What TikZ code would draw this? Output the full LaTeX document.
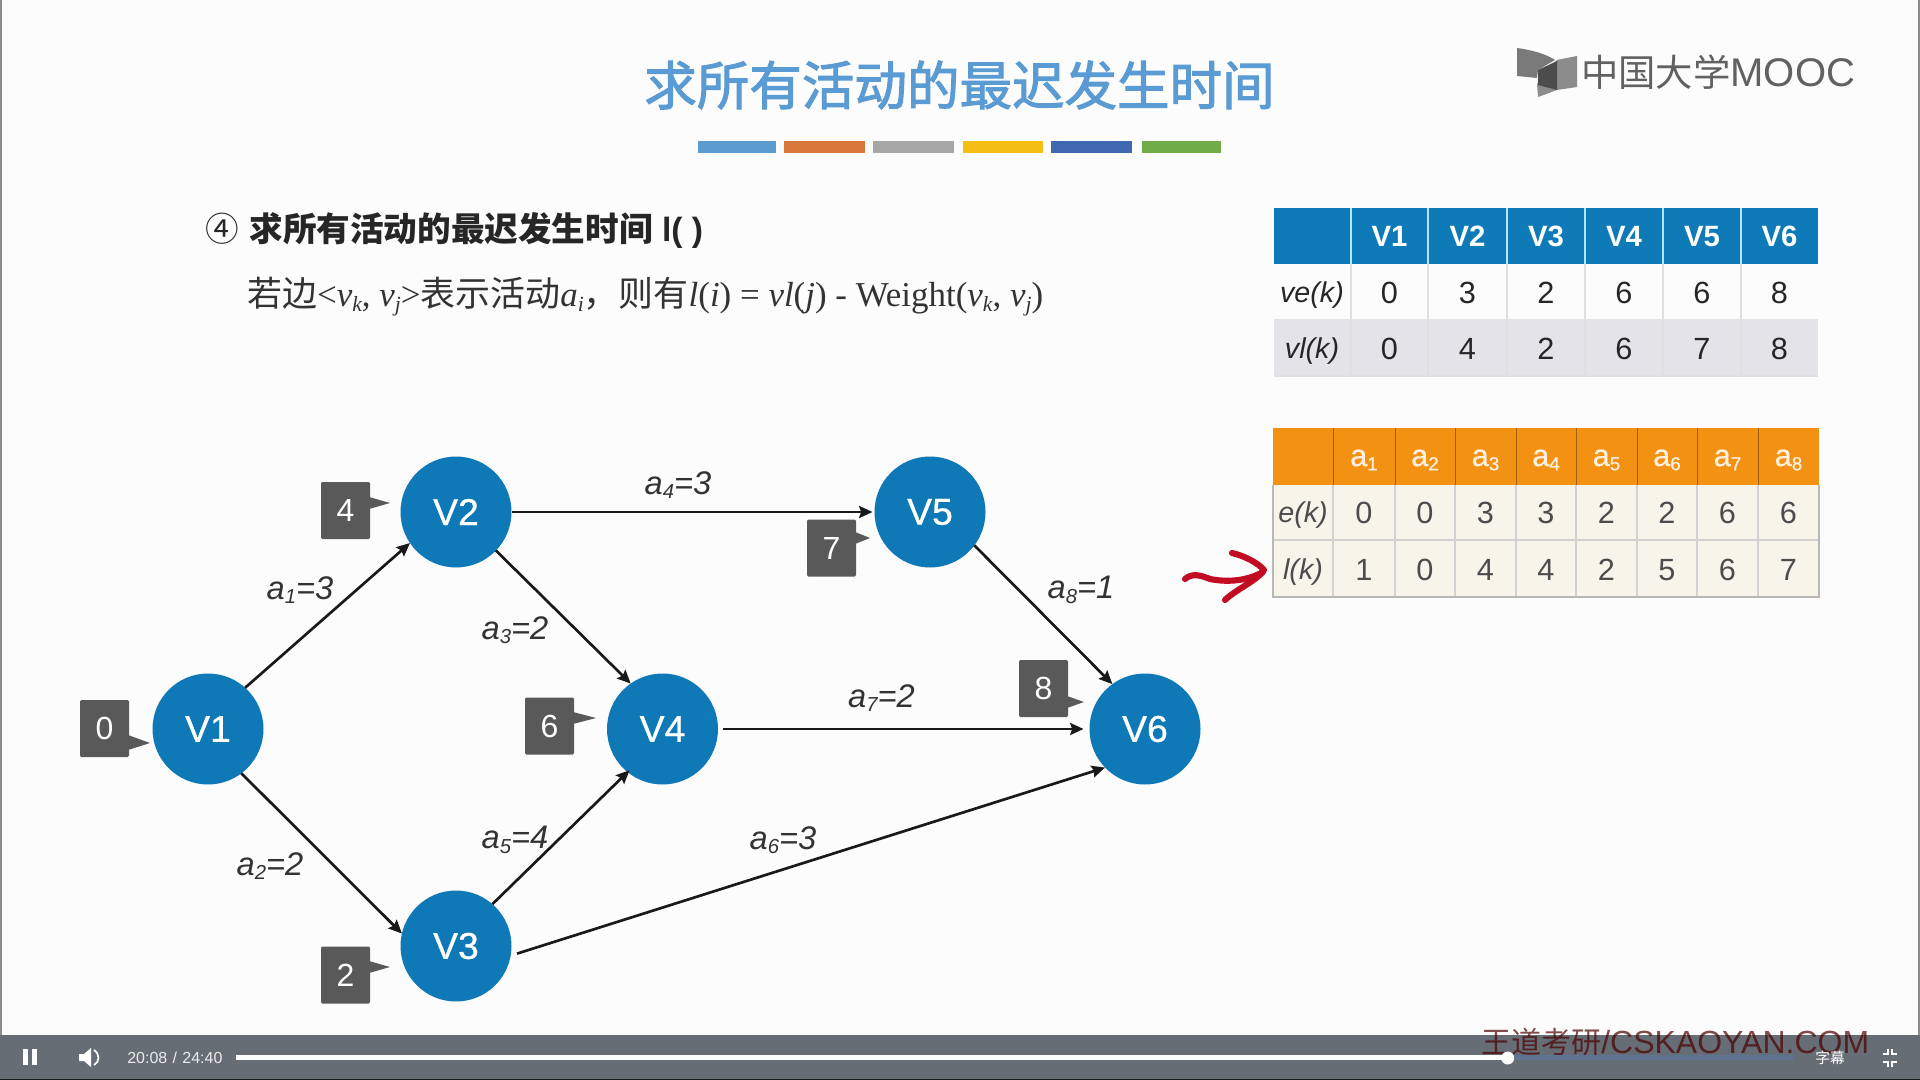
\documentclass[tikz,border=0pt]{standalone}
\usepackage{fontspec}
\setmainfont{Liberation Sans}
\newfontfamily\cjk{Noto Sans CJK SC}
\newfontfamily\cjktitle[FakeBold=2]{Noto Sans CJK SC}
\newfontfamily\tnr{Liberation Serif}
\newfontfamily\vfont[FakeBold=0.7]{Liberation Sans}
\usetikzlibrary{arrows.meta}
\definecolor{circblue}{HTML}{0F78B6}
\definecolor{headblue}{HTML}{0E7AB8}
\definecolor{headorange}{HTML}{F39112}
\definecolor{badgegray}{HTML}{595959}
\definecolor{titleblue}{HTML}{5A9BD3}
\definecolor{rowgray}{HTML}{E3E3E8}
\definecolor{rowcream}{HTML}{F7F5EA}
\definecolor{barcol}{HTML}{666D75}
\definecolor{bufcol}{HTML}{5E7490}
\definecolor{inkred}{HTML}{C20C24}
\newcommand{\mysub}[1]{\raisebox{-0.14em}{\scalebox{.62}{#1}}}
\newcommand{\lbl}[2]{{\itshape a\mysub{#1}=#2}}
\tikzset{
  vertex/.style={circle,fill=circblue,text=white,minimum size=83.25pt,inner sep=0pt,outer sep=0pt,font=\fontsize{28}{28}\selectfont\vfont},
  badge/.style={rectangle,fill=badgegray,text=white,minimum width=36.75pt,minimum height=42.75pt,inner sep=0pt,rounded corners=1pt,font=\fontsize{24}{24}\selectfont},
  edgearrow/.style={-{Stealth[length=10pt,width=9pt,inset=1.5pt]},line width=2pt,black!90},
  edgelabel/.style={inner sep=0pt,text=black!80,font=\fontsize{24.5}{24.5}\selectfont},
  cellnum/.style={inner sep=0pt,text=black!85,font=\fontsize{23}{23}\selectfont},
  creamnum/.style={inner sep=0pt,text=black!70,font=\fontsize{23}{23}\selectfont},
  headtxt/.style={inner sep=0pt,text=white,font=\fontsize{22}{22}\selectfont\bfseries},
  orangetxt/.style={inner sep=0pt,text=white!88!orange,font=\fontsize{23}{23}\selectfont\vfont},
}
\begin{document}
\begin{tikzpicture}[x=0.75pt,y=-0.75pt]
\useasboundingbox (0,0) rectangle (1920,1080);
\fill[white!99!black] (0,0) rectangle (1920,1080);
\fill[black!45] (0,0) rectangle (1.5,1036);
\fill[black!45] (1917.5,0) rectangle (1920,1036);
% title
\node[inner sep=0pt,text=titleblue,font=\fontsize{39.4}{39.4}\selectfont\cjktitle] (title) at (959.5,85) {求所有活动的最迟发生时间};
\foreach \xa/\xb/\col in {698/776/5B9BD0,784/865/D9773A,873/954/A6A6A6,963/1043/F5BE12,1051/1132/3F68B0,1142/1221/70AD47}{
  \definecolor{tmpc}{HTML}{\col}
  \fill[tmpc] (\xa,141) rectangle (\xb,153);
}
% logo
\fill[black!52] (1517,48) .. controls (1532,50) and (1546,54) .. (1555,60) -- (1538,70) -- (1537,78) -- (1517,76) -- cycle;
\fill[black!45] (1557,60) -- (1577,56) -- (1577,87) -- (1557,90) -- (1538,97) -- (1537,84) -- cycle;
\fill[black!70] (1538,70) -- (1557,61) -- (1557,90) -- (1538,85) -- cycle;
\node[inner sep=0pt,anchor=west,text=black!62] (logotext) at (1581,72) {{\fontsize{28}{28}\selectfont\cjk 中国大学}{\fontsize{30}{30}\selectfont MOOC}};
% heading
\node[inner sep=0pt,anchor=west,font=\fontsize{25.2}{25.2}\selectfont\bfseries,text=black!85] (heading) at (205,230) {{\cjk\mdseries ④}\hspace{8pt}{\cjk\bfseries 求所有活动的最迟发生时间} l( )};
\node[inner sep=0pt,anchor=west,font=\fontsize{26.2}{26.2}\selectfont\tnr,text=black!80] (formula) at (247,297) {{\cjk 若边}<\textit{v\mysub{k}}, \textit{v\mysub{j}}>{\cjk 表示活动}\textit{a\mysub{i}}{\cjk ，则有}\textit{l}(\textit{i}) = \textit{vl}(\textit{j}) - Weight(\textit{v\mysub{k}}, \textit{v\mysub{j}})};
% table 1
\fill[headblue] (1274,208) rectangle (1818,264);
\fill[rowgray] (1274,319) rectangle (1818,376);
\foreach \x in {1351,1428,1507,1585,1663,1741}{
  \draw[white!70!cyan,line width=0.9pt] (\x,208) -- (\x,264);
  \draw[black!12,line width=0.9pt] (\x,264) -- (\x,376);
}
\draw[black!12,line width=0.8pt] (1274,376) -- (1818,376);
\node[cellnum,font=\fontsize{21.5}{21.5}\selectfont\itshape] (velbl) at (1312,295) {ve(k)};
\node[cellnum,font=\fontsize{21.5}{21.5}\selectfont\itshape] (vllbl) at (1312,351) {vl(k)};
\foreach \x/\h/\a/\b [count=\c] in {1389.5/V1/0/0,1467.5/V2/3/4,1546/V3/2/2,1624/V4/6/6,1702/V5/6/7,1779.5/V6/8/8}{
  \node[headtxt] (th\c) at (\x,236.5) {\h};
  \node[cellnum] (tve\c) at (\x,293) {\a};
  \node[cellnum] (tvl\c) at (\x,349) {\b};
}
% table 2
\fill[rowcream] (1273,485) rectangle (1819,597);
\fill[headorange] (1273,428) rectangle (1819,485);
\foreach \x in {1333,1395,1455,1516,1576,1637,1697,1758}{
  \draw[black!35!headorange,line width=0.7pt] (\x,428) -- (\x,485);
  \draw[black!18,line width=0.9pt] (\x,485) -- (\x,597);
}
\draw[black!18,line width=0.9pt] (1273,540) -- (1819,540);
\draw[black!28,line width=1.2pt] (1273,485) -- (1273,597) -- (1819,597) -- (1819,485);
\node[creamnum,font=\fontsize{21.5}{21.5}\selectfont\itshape] (elbl) at (1303,515) {e(k)};
\node[creamnum,font=\fontsize{21.5}{21.5}\selectfont\itshape] (llbl) at (1303,572) {l(k)};
\foreach \x/\e/\l [count=\c] in {1364/0/1,1425/0/0,1485.5/3/4,1546/3/4,1606.5/2/2,1667/2/5,1727.5/6/6,1788.5/6/7}{
  \node[orangetxt] (ah\c) at (\x,460) {a\mysub{\c}};
  \node[creamnum] (ae\c) at (\x,513) {\e};
  \node[creamnum] (al\c) at (\x,570) {\l};
}
% red pen arrow
\draw[inkred,line width=4.6pt,line cap=round,line join=round] (1185,579) .. controls (1192,573) and (1200,575) .. (1210,579) .. controls (1225,582) and (1245,582) .. (1263,572);
\draw[inkred,line width=4.6pt,line cap=round,line join=round] (1232,553) .. controls (1245,556) and (1258,563) .. (1264,570) .. controls (1258,580) and (1235,590) .. (1225,600);
% vertices
\node[vertex] (V1) at (208,729) {V1};
\node[vertex] (V2) at (456,512) {V2};
\node[vertex] (V3) at (456,946) {V3};
\node[vertex] (V4) at (662.5,729) {V4};
\node[vertex] (V5) at (930,512) {V5};
\node[vertex] (V6) at (1145,729) {V6};
% edges
\draw[edgearrow] (V1.48) -- (V2.214);
\draw[edgearrow] (V1.-53) -- (V3.167);
\draw[edgearrow] (V2.-44) -- (V4.125);
\draw[edgearrow,shorten >=1.5pt,shorten <=0.5pt] (V2.east) -- (V5.west);
\draw[edgearrow,shorten <=3.5pt,shorten >=4.5pt] (V4.east) -- (V6.west);
\draw[edgearrow,shorten >=-2pt] (V3.49) -- (V4.231);
\draw[edgearrow,shorten <=5pt] (V3.-10) -- (V6.224);
\draw[edgearrow] (V5.-37) -- (V6.126);
% edge labels
\node[edgelabel] (la1) at (300,590) {\lbl{1}{3}};
\node[edgelabel] (la2) at (270,866) {\lbl{2}{2}};
\node[edgelabel] (la3) at (515,630) {\lbl{3}{2}};
\node[edgelabel] (la4) at (678,485) {\lbl{4}{3}};
\node[edgelabel] (la5) at (515,840) {\lbl{5}{4}};
\node[edgelabel] (la6) at (783,840) {\lbl{6}{3}};
\node[edgelabel] (la7) at (881.5,698) {\lbl{7}{2}};
\node[edgelabel] (la8) at (1081,590) {\lbl{8}{1}};
% badges
\node[badge] (b0) at (104.5,728.5) {0};
\fill[badgegray] (128,735) -- (150,743) -- (128,750) -- cycle;
\node[badge] (b4) at (345.5,510.5) {4};
\fill[badgegray] (369,497) -- (390,503) -- (369,509) -- cycle;
\node[badge] (b2) at (345.5,975) {2};
\fill[badgegray] (369,961) -- (390,967) -- (369,973) -- cycle;
\node[badge] (b6) at (549.5,726) {6};
\fill[badgegray] (573,712) -- (596,718) -- (573,724) -- cycle;
\node[badge] (b7) at (831.5,548) {7};
\fill[badgegray] (855,532) -- (870,538) -- (855,544) -- cycle;
\node[badge] (b8) at (1043.5,688.5) {8};
\fill[badgegray] (1067,696) -- (1084,702) -- (1067,708) -- cycle;
% player bar
\fill[barcol] (0,1035) rectangle (1920,1080);
\fill[black!75!barcol] (0,1079) rectangle (1920,1080);
\node[inner sep=0pt,anchor=west,text=black!70!red,opacity=.7] (wm) at (1481,1042) {{\fontsize{22.5}{22.5}\selectfont\cjk 王道考研}{\fontsize{24}{24}\selectfont /CSKAOYAN.COM}};
\fill[white] (23,1049) rectangle (28,1065);
\fill[white] (32,1049) rectangle (37,1065);
\fill[white] (79,1054) -- (84,1054) -- (91,1048) -- (91,1067) -- (84,1061) -- (79,1061) -- cycle;
\draw[white,line width=1.3pt] (94,1050) .. controls (100,1054) and (100,1062) .. (94,1065);
\node[inner sep=0pt,anchor=west,text=white!92!black,font=\fontsize{12}{12}\selectfont] (time) at (127,1057.5) {20:08\hspace{4pt}/\hspace{4pt}24:40};
\fill[bufcol] (1507,1055) rectangle (1793,1060);
\fill[white] (236,1055) rectangle (1507,1060);
\fill[white] (1507.7,1058) circle (6.5);
\node[inner sep=0pt,text=white,font=\fontsize{11}{11}\selectfont\cjk] (subs) at (1830,1058) {字幕};
\draw[white,line width=1.5pt] (1883,1054) -- (1888,1054) -- (1888,1049);
\draw[white,line width=1.5pt] (1897,1054) -- (1892,1054) -- (1892,1049);
\draw[white,line width=1.5pt] (1883,1062) -- (1888,1062) -- (1888,1067);
\draw[white,line width=1.5pt] (1897,1062) -- (1892,1062) -- (1892,1067);
\end{tikzpicture}
\end{document}
